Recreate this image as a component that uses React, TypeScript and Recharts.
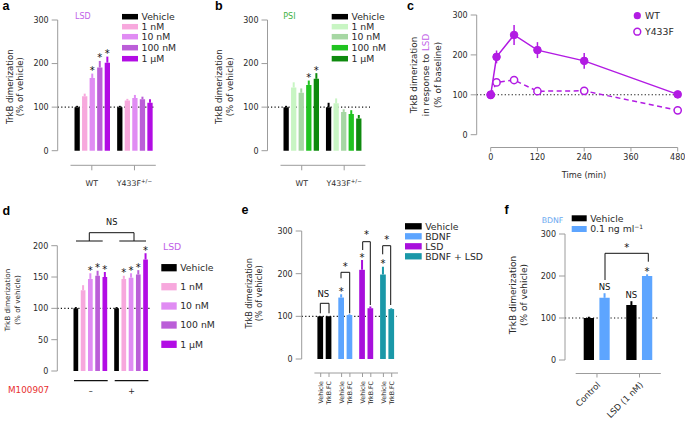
import {
  BarChart,
  Bar,
  LineChart,
  Line,
  XAxis,
  YAxis,
  ReferenceLine,
  ErrorBar,
  LabelList,
  Cell,
} from 'recharts'

const W = 685
const H = 423
const FONT = '"DejaVu Sans", sans-serif'
const BOLD = '"Liberation Sans", Arial, sans-serif'
const AXIS = '#9c9c9c'
const INK = '#2a2a2a'
const YW = 30
const XH = 20

// ---- data ----
const doses = ['Vehicle', '1 nM', '10 nM', '100 nM', '1 µM']
const genotypes = ['WT', 'Y433F']
const lsdColors = ['#000000', '#f7a8dd', '#e08cf3', '#bb5ed8', '#b20ce4']
const psiColors = ['#000000', '#c8f5c3', '#a6d7a3', '#20c320', '#0e8a0e']

const lsdWT = [100, 125, 167, 191, 202]
const lsdWTErr = [3, 6, 10, 15, 14]
const lsdWTMark = ['', '', '*', '*', '*']
const lsdY433F = [100, 115, 121, 118, 110]
const lsdY433FErr = [3, 4, 7, 6, 8]
const lsdY433FMark = ['', '', '', '', '']

const psiWT = [100, 145, 133, 151, 165]
const psiWTErr = [3, 12, 10, 10, 13]
const psiWTMark = ['', '', '', '*', '*']
const psiY433F = [100, 109, 89, 84, 74]
const psiY433FErr = [10, 11, 6, 9, 8]
const psiY433FMark = ['', '', '', '', '']

const timeMin = [0, 15, 60, 120, 240, 480]
const timeTicks = [0, 120, 240, 360, 480]
const wtTime = [100, 195, 250, 212, 185, 101]
const wtTimeErr = [8, 16, 25, 20, 20, 5]
const y433fTime = [100, 131, 137, 109, 110, 61]
const y433fTimeErr = [4, 6, 8, 4, 5, 4]

const m100907 = ['–', '+']
const mNeg = [100, 129, 147, 152, 150]
const mNegErr = [2, 8, 9, 8, 8]
const mNegMark = ['', '', '*', '*', '*']
const mPos = [100, 147, 149, 154, 178]
const mPosErr = [2, 5, 7, 7, 10]
const mPosMark = ['', '*', '*', '*', '*']

const eGroups = ['Vehicle', 'BDNF', 'LSD', 'BDNF + LSD']
const eArms = ['Vehicle', 'TrkB.FC']
const eColors = ['#000000', '#5da5ff', '#a80fdc', '#1a98a8']
const eVeh = [100, 144, 209, 198]
const eVehErr = [1, 8, 23, 18]
const eVehMark = ['', '*', '*', '*']
const eTrk = [100, 103, 119, 117]
const eTrkErr = [1, 2, 4, 2]

const fGroups = ['Control', 'LSD (1 nM)']
const fColors = ['#000000', '#5da5ff']
const fVeh = [100, 131]
const fVehErr = [3, 9]
const fVehMark = ['', 'NS']
const fBdnf = [148, 200]
const fBdnfErr = [11, 4]
const fBdnfMark = ['NS', '*']

const PURPLE = '#b21be3'

// ---- layout (page pixels) ----
const A = { axisX: 57.7, dotEnd: 155, top: 20, y0: 150.7, xLine: 165.3, l: 70.5, r: 155.8 }
const B = { axisX: 267.5, dotEnd: 370, top: 20, y0: 150.7, xLine: 165.3, l: 280.5, r: 365.4 }
const C = { axisX: 476.7, dotEnd: 677.3, top: 15, y0: 134.7, xLine: 147.5, l: 490.7, r: 677.7 }
const D = { axisX: 57.3, dotEnd: 151.7, top: 245.7, y0: 371, xLine: 371, l: 70.5, r: 151.9 }
const E = { axisX: 301.7, dotEnd: 396.7, top: 231, y0: 359, xLine: 373, l: 314.4, r: 398 }
const F = { axisX: 565, dotEnd: 658.3, top: 234, y0: 360, xLine: 373.5, l: 575.7, r: 660.8 }

const layer: React.CSSProperties = { position: 'absolute', left: 0, top: 0 }

function frame(l: number, t: number, r: number, b: number, withY: boolean, withX: boolean) {
  return { top: t, left: l - (withY ? YW : 0), right: W - r, bottom: H - b - (withX ? XH : 0) }
}

function groupRows(cats: string[], vals: number[][], errs: number[][], marks: string[][]) {
  return cats.map((cat, i) => {
    const row: any = { cat }
    vals[i].forEach((v, j) => {
      row['v' + j] = v
      row['e' + j] = [0, errs[i][j]]
      row['m' + j] = marks[i][j]
    })
    return row
  })
}

const markRenderer = (rows: any[], key: string, pxu: number) => (p: any) => {
  const mark = p.value
  if (!mark) return null
  const row = rows[p.index]
  const err = row ? row[key][1] : 0
  const top = p.y - err * pxu
  const star = mark === '*'
  return (
    <text
      x={p.x + p.width / 2}
      y={star ? top + 0.5 : top - 3}
      textAnchor="middle"
      fontSize={star ? 10 : 8.5}
      fill="#111"
      fontFamily={FONT}
    >
      {mark}
    </text>
  )
}

function YFrame({ p, max, ticks, fs = 8 }: { p: any; max: number; ticks: number[]; fs?: number }) {
  return (
    <div style={layer}>
      <BarChart width={W} height={H} data={[{ k: 0 }]} margin={frame(p.axisX, p.top, p.dotEnd, p.y0, true, false)}>
        <XAxis dataKey="k" hide />
        <YAxis
          domain={[0, max]}
          ticks={ticks}
          interval={0}
          width={YW}
          tickSize={6}
          tickMargin={3}
          allowDataOverflow
          tick={{ fontSize: fs, fill: INK, fontFamily: FONT }}
          axisLine={{ stroke: AXIS }}
          tickLine={{ stroke: AXIS }}
        />
        <ReferenceLine y={100} stroke="#111" strokeDasharray="1.2 2.3" strokeWidth={1.1} />
      </BarChart>
    </div>
  )
}

function GroupedBars({
  p,
  rows,
  colors,
  max,
  barSize,
  barGap,
  xAxis,
}: {
  p: any
  rows: any[]
  colors: string[]
  max: number
  barSize: number
  barGap: number
  xAxis: any
}) {
  const pxu = (p.y0 - p.top) / max
  const lo = -(p.xLine - p.y0) / pxu
  return (
    <div style={layer}>
      <BarChart
        width={W}
        height={H}
        data={rows}
        margin={frame(p.l, p.top, p.r, p.xLine, false, true)}
        barSize={barSize}
        barGap={barGap}
      >
        <XAxis dataKey="cat" height={XH} interval={0} {...xAxis} />
        <YAxis hide domain={[lo, max]} allowDataOverflow />
        {colors.map((c, j) => (
          <Bar key={j} dataKey={'v' + j} fill={c} isAnimationActive={false}>
            <ErrorBar dataKey={'e' + j} direction="y" width={0} stroke={c} strokeWidth={2} />
            <LabelList dataKey={'m' + j} content={markRenderer(rows, 'e' + j, pxu)} />
          </Bar>
        ))}
      </BarChart>
    </div>
  )
}

const GenoTick = (t: any) => {
  const v = t.payload.value
  return (
    <text x={t.x} y={t.y + 16} textAnchor="middle" fontSize={7.8} fill={INK} fontFamily={FONT}>
      {v}
      {v === 'Y433F' ? (
        <tspan dy={-3} fontSize={5.5}>
          +/−
        </tspan>
      ) : null}
    </text>
  )
}

const aRows = groupRows(genotypes, [lsdWT, lsdY433F], [lsdWTErr, lsdY433FErr], [lsdWTMark, lsdY433FMark])
const bRows = groupRows(genotypes, [psiWT, psiY433F], [psiWTErr, psiY433FErr], [psiWTMark, psiY433FMark])
const dRows = groupRows(m100907, [mNeg, mPos], [mNegErr, mPosErr], [mNegMark, mPosMark])
const fRows = groupRows(
  fGroups,
  fGroups.map((_, i) => [fVeh[i], fBdnf[i]]),
  fGroups.map((_, i) => [fVehErr[i], fBdnfErr[i]]),
  fGroups.map((_, i) => [fVehMark[i], fBdnfMark[i]]),
)
const cRows = timeMin.map((t, i) => ({
  t,
  wt: wtTime[i],
  wtE: wtTimeErr[i],
  mu: y433fTime[i],
  muE: y433fTimeErr[i],
}))
const eRows = eGroups.map((g, i) => ({ cat: g, veh: eVeh[i], trk: eTrk[i], vm: eVehMark[i], ve: [0, eVehErr[i]] }))

const axisBase = {
  axisLine: { stroke: AXIS },
  tickLine: { stroke: AXIS },
}

// bar sizes
const D_BAR = 4.7
const D_GAP = 2.55
const E_BAR = 5.7
const E_GAP = 2.6

const dHalf = (4 * (D_BAR + D_GAP) + D_BAR) / 2
const DoseGroupTick = (t: any) => (
  <g>
    <line x1={t.x - dHalf} x2={t.x + dHalf} y1={t.y + 9.7} y2={t.y + 9.7} stroke="#111" strokeWidth={1.2} />
    <text x={t.x} y={t.y + 22.5} textAnchor="middle" fontSize={8} fill={INK} fontFamily={FONT}>
      {t.payload.value}
    </text>
  </g>
)

const eOff = (E_BAR + E_GAP) / 2
const ArmTick = (t: any) => (
  <g>
    {eArms.map((arm, k) => {
      const x = t.x + (k === 0 ? -eOff : eOff)
      return (
        <g key={arm}>
          <line x1={x} x2={x} y1={t.y} y2={t.y + 4} stroke={AXIS} />
          <text
            transform={`translate(${x + 2.2},${t.y + 8}) rotate(-90)`}
            textAnchor="end"
            fontSize={6.3}
            fill={INK}
            fontFamily={FONT}
          >
            {arm}
          </text>
        </g>
      )
    })}
  </g>
)

const SlantTick = (t: any) => (
  <text
    transform={`translate(${t.x + 4},${t.y + 8}) rotate(-45)`}
    textAnchor="end"
    fontSize={8.5}
    fill={INK}
    fontFamily={FONT}
  >
    {t.payload.value}
  </text>
)

const errShape = (errs: number[], pxu: number) => (s: any) => {
  const e = errs[s.index] * pxu
  const cx = s.x + s.width / 2
  return (
    <g>
      <rect x={s.x} y={s.y} width={s.width} height={s.height} fill={s.fill} />
      <line x1={cx} x2={cx} y1={s.y} y2={s.y - e} stroke={s.fill} strokeWidth={2} />
    </g>
  )
}

function PanelE() {
  const pxu = (E.y0 - E.top) / 300
  const lo = -(E.xLine - E.y0) / pxu
  return (
    <div style={layer}>
      <BarChart
        width={W}
        height={H}
        data={eRows}
        margin={frame(E.l, E.top, E.r, E.xLine, false, true)}
        barSize={E_BAR}
        barGap={E_GAP}
      >
        <XAxis dataKey="cat" height={XH} interval={0} axisLine={{ stroke: AXIS }} tickLine={false} tickSize={0} tickMargin={0} tick={ArmTick} />
        <YAxis hide domain={[lo, 300]} allowDataOverflow />
        <Bar dataKey="veh" isAnimationActive={false} shape={errShape(eVehErr, pxu)}>
          {eGroups.map((g, i) => (
            <Cell key={g} fill={eColors[i]} />
          ))}
          <LabelList dataKey="vm" content={markRenderer(eRows, 've', pxu)} />
        </Bar>
        <Bar dataKey="trk" isAnimationActive={false} shape={errShape(eTrkErr, pxu)}>
          {eGroups.map((g, i) => (
            <Cell key={g} fill={eColors[i]} />
          ))}
        </Bar>
      </BarChart>
    </div>
  )
}

function PanelC() {
  const pxu = (C.y0 - C.top) / 300
  const lo = -(C.xLine - C.y0) / pxu
  return (
    <div style={layer}>
      <LineChart width={W} height={H} data={cRows} margin={frame(C.l, C.top, C.r, C.xLine, false, true)}>
        <XAxis
          type="number"
          dataKey="t"
          domain={[0, 480]}
          ticks={timeTicks}
          interval={0}
          height={XH}
          tickSize={4}
          tickMargin={3}
          tick={{ fontSize: 8, fill: INK, fontFamily: FONT }}
          {...axisBase}
        />
        <YAxis hide domain={[lo, 300]} allowDataOverflow />
        <Line
          dataKey="mu"
          stroke={PURPLE}
          strokeWidth={1.5}
          strokeDasharray="5 3.5"
          isAnimationActive={false}
          dot={{ r: 3.6, fill: '#fff', stroke: PURPLE, strokeWidth: 1.5, strokeDasharray: 'none' }}
        >
          <ErrorBar dataKey="muE" direction="y" width={0} stroke={PURPLE} strokeWidth={1.5} />
        </Line>
        <Line
          dataKey="wt"
          stroke={PURPLE}
          strokeWidth={1.5}
          isAnimationActive={false}
          dot={{ r: 3.8, fill: PURPLE, stroke: PURPLE, strokeWidth: 1 }}
        >
          <ErrorBar dataKey="wtE" direction="y" width={0} stroke={PURPLE} strokeWidth={1.5} />
        </Line>
      </LineChart>
    </div>
  )
}

function VTitle({ cx, cy, fs, lh, lines }: { cx: number; cy: number; fs: number; lh: number; lines: any[] }) {
  return (
    <text transform={`translate(${cx},${cy}) rotate(-90)`} textAnchor="middle" fontSize={fs} fill={INK} fontFamily={FONT}>
      {lines.map((l, i) => (
        <tspan key={i} x={0} y={i * lh}>
          {l}
        </tspan>
      ))}
    </text>
  )
}

function Legend({
  x,
  ys,
  labels,
  colors,
  w,
  h,
  fs = 9.3,
}: {
  x: number
  ys: number[]
  labels: any[]
  colors: string[]
  w: number
  h: number
  fs?: number
}) {
  return (
    <g>
      {labels.map((l, i) => (
        <g key={i}>
          <rect x={x} y={ys[i] - h / 2} width={w} height={h} fill={colors[i]} />
          <text x={x + w + 3.5} y={ys[i] + fs * 0.36} fontSize={fs} fill={INK} fontFamily={FONT}>
            {l}
          </text>
        </g>
      ))}
    </g>
  )
}

function Letter({ x, y, c }: { x: number; y: number; c: string }) {
  return (
    <text x={x} y={y} fontSize={12.5} fontWeight="bold" fontFamily={BOLD} fill="#000">
      {c}
    </text>
  )
}

function Overlay() {
  const br = { stroke: '#111', strokeWidth: 1, fill: 'none' }
  const star = (x: number, y: number) => (
    <text x={x} y={y + 5.9} textAnchor="middle" fontSize={10} fill="#111" fontFamily={FONT}>
      *
    </text>
  )
  const ns = (x: number, y: number, fs = 8.5) => (
    <text x={x} y={y + 3} textAnchor="middle" fontSize={fs} fill="#111" fontFamily={FONT}>
      NS
    </text>
  )
  const legendRows = [16.7, 26.7, 36.7, 47.7, 58.7]
  return (
    <svg width={W} height={H} style={layer}>
      <Letter x={2.5} y={10} c="a" />
      <Letter x={215} y={10} c="b" />
      <Letter x={407} y={9.5} c="c" />
      <Letter x={2.5} y={215} c="d" />
      <Letter x={241.5} y={213.5} c="e" />
      <Letter x={504.5} y={213.5} c="f" />

      {/* a */}
      <text x={75} y={18.6} fontSize={8} fill="#c15fe8" fontFamily={FONT}>LSD</text>
      <VTitle cx={13.2} cy={86.7} fs={8.6} lh={9.5} lines={['TrkB dimerization', '(% of vehicle)']} />
      <Legend x={122} ys={legendRows} labels={doses} colors={lsdColors} w={16} h={5.5} />

      {/* b */}
      <text x={283.3} y={18.6} fontSize={8} fill="#3fb23f" fontFamily={FONT}>PSI</text>
      <VTitle cx={221.5} cy={86.7} fs={8.6} lh={11} lines={['TrkB dimerization', '(% of vehicle)']} />
      <Legend x={331.7} ys={legendRows} labels={doses} colors={psiColors} w={16.3} h={5.5} />

      {/* c */}
      <VTitle
        cx={417}
        cy={75}
        fs={8.8}
        lh={12}
        lines={[
          'TrkB dimerization',
          <>
            in response to <tspan fill="#c15fe8">LSD</tspan>
          </>,
          '(% of baseline)',
        ]}
      />
      <circle cx={637.3} cy={15.7} r={3.6} fill={PURPLE} />
      <text x={645} y={19} fontSize={9.3} fill={INK} fontFamily={FONT}>WT</text>
      <circle cx={637.3} cy={31.7} r={3.4} fill="#fff" stroke={PURPLE} strokeWidth={1.5} />
      <text x={645} y={35} fontSize={9.3} fill={INK} fontFamily={FONT}>Y433F</text>
      <text x={584} y={178} textAnchor="middle" fontSize={8.2} fill={INK} fontFamily={FONT}>Time (min)</text>

      {/* d */}
      {ns(111.7, 222.3, 8.2)}
      <path d="M89.3,241 V232.7 H134 V241 M76,241 H102.7 M119.3,241 H146" {...br} />
      <text x={163} y={249.7} fontSize={9.3} fill="#c15fe8" fontFamily={FONT}>LSD</text>
      <Legend x={161.3} ys={[267.7, 286.7, 306, 325, 344.3]} labels={doses} colors={lsdColors} w={15.4} h={7.3} />
      <VTitle cx={10} cy={300} fs={7.2} lh={9.5} lines={['TrkB dimerization', '(% of vehicle)']} />
      <text x={8} y={393.3} fontSize={8.8} fill="#e8302f" fontFamily={FONT}>M100907</text>

      {/* e */}
      <VTitle cx={251.5} cy={293.3} fs={8.1} lh={10} lines={['TrkB dimerization', '(% of vehicle)']} />
      <Legend x={405} ys={[226.3, 236.3, 246.3, 256.3]} labels={eGroups} colors={eColors} w={16.7} h={6.3} />
      {ns(323.3, 294.3)}
      <path d="M320.3,313.3 V303.3 H329 V313.3" {...br} />
      <path d="M341,278.3 V272.3 H349.7 V313.3" {...br} />
      {star(345.3, 264)}
      <path d="M362.7,250 V241.7 H370.3 V305" {...br} />
      {star(366.5, 231.7)}
      <path d="M382.7,254.3 V245.7 H390.7 V305" {...br} />
      {star(386.7, 236.7)}

      {/* f */}
      <VTitle cx={516} cy={295} fs={9} lh={10.5} lines={['TrkB dimerization', '(% of vehicle)']} />
      <text x={563.3} y={223} textAnchor="end" fontSize={7.8} fill="#6aa8f0" fontFamily={FONT}>BDNF</text>
      <Legend
        x={571.7}
        ys={[218.3, 229]}
        labels={[
          'Vehicle',
          <>
            0.1 ng ml<tspan dy={-3} fontSize={6}>−1</tspan>
          </>,
        ]}
        colors={fColors}
        w={15}
        h={6}
      />
      <path d="M605,280 V253.3 H648.3 V261.7" {...br} />
      {star(626.7, 245)}
    </svg>
  )
}

export default function App() {
  return (
    <div style={{ position: 'fixed', left: 0, top: 0, width: W, height: H, background: '#fff', overflow: 'hidden' }}>
      <YFrame p={A} max={300} ticks={[0, 100, 200, 300]} />
      <GroupedBars
        p={A}
        rows={aRows}
        colors={lsdColors}
        max={300}
        barSize={5.3}
        barGap={2.25}
        xAxis={{ ...axisBase, tickSize: 5, tickMargin: 0, tick: GenoTick }}
      />
      <YFrame p={B} max={300} ticks={[0, 100, 200, 300]} />
      <GroupedBars
        p={B}
        rows={bRows}
        colors={psiColors}
        max={300}
        barSize={5.3}
        barGap={2.25}
        xAxis={{ ...axisBase, tickSize: 5, tickMargin: 0, tick: GenoTick }}
      />
      <YFrame p={C} max={300} ticks={[0, 100, 200, 300]} />
      <PanelC />
      <YFrame p={D} max={200} ticks={[0, 50, 100, 150, 200]} />
      <GroupedBars
        p={D}
        rows={dRows}
        colors={lsdColors}
        max={200}
        barSize={D_BAR}
        barGap={D_GAP}
        xAxis={{ axisLine: false, tickLine: false, tickSize: 0, tickMargin: 0, tick: DoseGroupTick }}
      />
      <YFrame p={E} max={300} ticks={[0, 100, 200, 300]} />
      <PanelE />
      <YFrame p={F} max={300} ticks={[0, 100, 200, 300]} />
      <GroupedBars
        p={F}
        rows={fRows}
        colors={fColors}
        max={300}
        barSize={10.3}
        barGap={5.4}
        xAxis={{ ...axisBase, tickSize: 4, tickMargin: 0, tick: SlantTick }}
      />
      <Overlay />
    </div>
  )
}
